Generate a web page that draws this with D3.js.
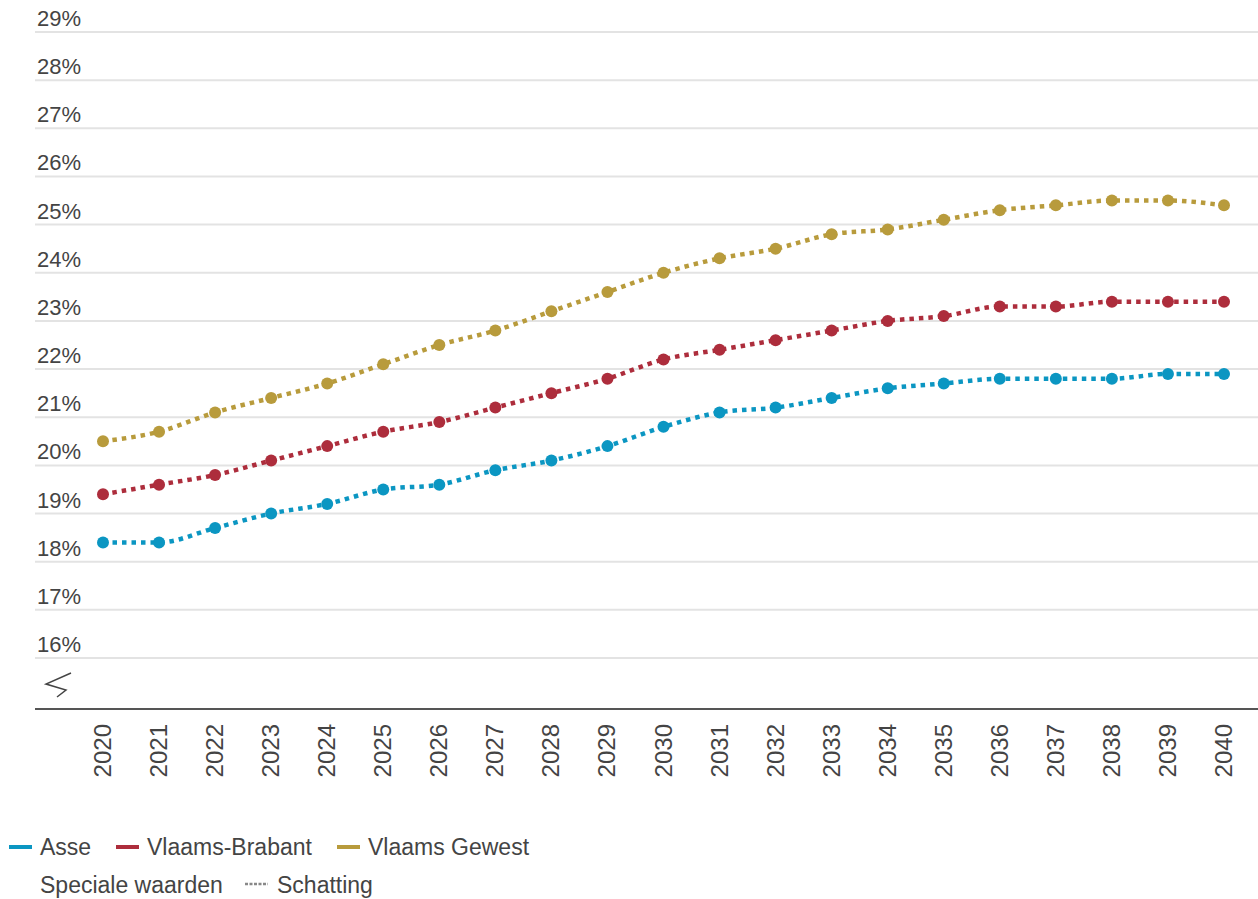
<!DOCTYPE html>
<head>
    <meta charset="utf-8">
    <title>Asse - schatting</title>
    <script src="https://cdn.jsdelivr.net/npm/d3@7"></script>
</head>
<style>
    body { margin: 0; background: #fff; }
    svg { font-family: "Liberation Sans", Arial, sans-serif; }
    .grid line { stroke: #e3e3e3; stroke-width: 2px; }
    .ylab { fill: #444; font-size: 22px; }
    .xlab { fill: #444; font-size: 24px; }
    .leg { fill: #444; font-size: 23px; }
</style>
<body>
    <svg></svg>
</body>

<script>
    var vWidth = 1258;
    var vHeight = 899;

    var years = [2020, 2021, 2022, 2023, 2024, 2025, 2026, 2027, 2028, 2029, 2030,
        2031, 2032, 2033, 2034, 2035, 2036, 2037, 2038, 2039, 2040];
    var yTicks = [16, 17, 18, 19, 20, 21, 22, 23, 24, 25, 26, 27, 28, 29];

    var seriesNames = ['Asse', 'Vlaams-Brabant', 'Vlaams Gewest'];
    var seriesColors = ['#0b96c2', '#ad2d3c', '#b89b3c'];
    var asse = [18.4, 18.4, 18.7, 19.0, 19.2, 19.5, 19.6, 19.9, 20.1, 20.4, 20.8,
        21.1, 21.2, 21.4, 21.6, 21.7, 21.8, 21.8, 21.8, 21.9, 21.9];
    var vlaamsBrabant = [19.4, 19.6, 19.8, 20.1, 20.4, 20.7, 20.9, 21.2, 21.5, 21.8, 22.2,
        22.4, 22.6, 22.8, 23.0, 23.1, 23.3, 23.3, 23.4, 23.4, 23.4];
    var vlaamsGewest = [20.5, 20.7, 21.1, 21.4, 21.7, 22.1, 22.5, 22.8, 23.2, 23.6, 24.0,
        24.3, 24.5, 24.8, 24.9, 25.1, 25.3, 25.4, 25.5, 25.5, 25.4];
    var seriesValues = [asse, vlaamsBrabant, vlaamsGewest];

    var svg = d3.select('svg')
        .attr('width', vWidth)
        .attr('height', vHeight);

    // scales
    var x = d3.scalePoint().domain(years).range([103, 1224]);
    var y = d3.scaleLinear().domain([16, 29]).range([658, 32]);

    // grid + y labels
    var grid = svg.append('g').attr('class', 'grid');
    grid.selectAll('line')
        .data(yTicks)
        .enter().append('line')
        .attr('x1', 35).attr('x2', vWidth)
        .attr('y1', function (d) { return y(d); })
        .attr('y2', function (d) { return y(d); });
    svg.append('g').selectAll('text')
        .data(yTicks)
        .enter().append('text')
        .attr('class', 'ylab')
        .attr('x', 37)
        .attr('y', function (d) { return y(d) - 6; })
        .text(function (d) { return d + '%'; });

    // axis break symbol
    svg.append('path')
        .attr('d', 'M71,673 L46,684 L66,690 L57,697')
        .attr('fill', 'none')
        .attr('stroke', '#444')
        .attr('stroke-width', 1.5);

    // x axis line
    svg.append('line')
        .attr('x1', 35).attr('x2', vWidth)
        .attr('y1', 709).attr('y2', 709)
        .attr('stroke', '#555').attr('stroke-width', 2);

    svg.append('g').selectAll('text')
        .data(years)
        .enter().append('text')
        .attr('class', 'xlab')
        .attr('text-anchor', 'end')
        .attr('transform', function (d) {
            return 'translate(' + (x(d) + 8) + ',724) rotate(-90)';
        })
        .text(function (d) { return d; });

    // lines
    var line = d3.line()
        .x(function (d, i) { return x(years[i]); })
        .y(function (d) { return y(d); })
        .curve(d3.curveMonotoneX);

    seriesValues.forEach(function (vals, s) {
        svg.append('path')
            .datum(vals)
            .attr('d', line)
            .attr('fill', 'none')
            .attr('stroke', seriesColors[s])
            .attr('stroke-width', 4.5)
            .attr('stroke-dasharray', '4.5,5');
        svg.append('g').selectAll('circle')
            .data(vals)
            .enter().append('circle')
            .attr('cx', function (d, i) { return x(years[i]); })
            .attr('cy', function (d) { return y(d); })
            .attr('r', 6)
            .attr('fill', seriesColors[s]);
    });

    // legend
    var legX = [9, 116, 337];
    seriesNames.forEach(function (n, i) {
        svg.append('line')
            .attr('x1', legX[i]).attr('x2', legX[i] + 23)
            .attr('y1', 847).attr('y2', 847)
            .attr('stroke', seriesColors[i]).attr('stroke-width', 4);
        svg.append('text')
            .attr('class', 'leg')
            .attr('x', legX[i] + 31).attr('y', 855)
            .text(n);
    });
    svg.append('text').attr('class', 'leg')
        .attr('x', 40).attr('y', 893)
        .text('Speciale waarden');
    svg.append('line')
        .attr('x1', 245).attr('x2', 268)
        .attr('y1', 884).attr('y2', 884)
        .attr('stroke', '#888').attr('stroke-width', 2.5)
        .attr('stroke-dasharray', '3,1.5');
    svg.append('text').attr('class', 'leg')
        .attr('x', 277).attr('y', 893)
        .text('Schatting');
</script>
